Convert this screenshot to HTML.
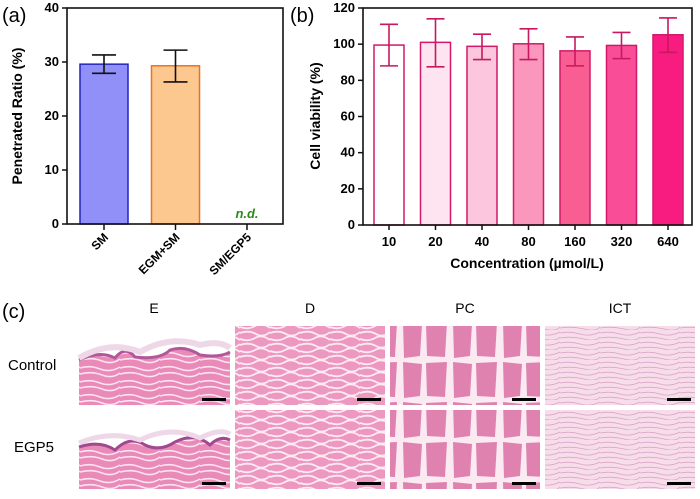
<!DOCTYPE html>
<html><head><meta charset="utf-8"><style>
body{margin:0;background:#fff;width:700px;height:494px;overflow:hidden;font-family:"Liberation Sans",sans-serif}
svg text{font-family:"Liberation Sans",sans-serif}
</style></head><body>
<svg id="fig" width="700" height="494" xmlns="http://www.w3.org/2000/svg">
<defs>
<pattern id="fib" width="40" height="14" patternUnits="userSpaceOnUse">
<rect width="40" height="14" fill="#e98ab8"/>
<path d="M0 4 Q10 1 20 5 T40 3 M0 10 Q12 7 22 11 T40 9" stroke="#fbe4ef" stroke-width="1.6" fill="none"/>
</pattern>
<pattern id="fib2" width="30" height="12" patternUnits="userSpaceOnUse">
<rect width="30" height="12" fill="#ec98c0"/>
<path d="M0 3 Q8 6 15 2 T30 4 M0 9 Q9 6 16 10 T30 8" stroke="#fdeaf2" stroke-width="1.8" fill="none"/>
</pattern>
<pattern id="musc" width="50" height="40" patternUnits="userSpaceOnUse">
<rect width="50" height="40" fill="#fbeaf2"/>
<path d="M3 2 L22 4 L20 36 L4 38 Z M26 3 L47 2 L45 37 L27 36 Z" fill="#df82b0"/>
</pattern>
<pattern id="ict" width="40" height="10" patternUnits="userSpaceOnUse">
<rect width="40" height="10" fill="#f7dcea"/>
<path d="M0 3 Q10 1 20 4 T40 2 M0 8 Q12 6 24 9 T40 7" stroke="#d9a6c8" stroke-width="0.8" fill="none"/>
</pattern>
</defs>
<g id="pa"></g>
<g id="pb"></g>
<g id="pc">
<text x="2" y="318" font-size="20">(c)</text>
<text x="154" y="313" font-size="14" text-anchor="middle">E</text>
<text x="310" y="313" font-size="14" text-anchor="middle">D</text>
<text x="465" y="313" font-size="14" text-anchor="middle">PC</text>
<text x="620" y="313" font-size="14" text-anchor="middle">ICT</text>
<text x="8" y="370" font-size="15">Control</text>
<text x="14" y="452" font-size="15">EGP5</text>
<g>
<rect x="79" y="326" width="151" height="79" fill="#fff"/>
<path d="M79 360 Q100 350 115 358 Q125 345 135 357 Q160 360 170 350 Q185 345 200 355 Q220 358 230 352 L230 405 L79 405Z" fill="url(#fib)"/>
<path d="M79 360 Q100 350 115 358 Q125 345 135 357 Q160 360 170 350 Q185 345 200 355 Q220 358 230 352" fill="none" stroke="#b0589a" stroke-width="3"/>
<path d="M79 358 Q110 340 140 352 Q170 335 200 345 Q220 340 230 348" stroke="#eed8e8" stroke-width="6" fill="none"/>
<rect x="202" y="398" width="24" height="3" fill="#000"/></g>
<g>
<rect x="79" y="410" width="151" height="79" fill="#fff"/>
<path d="M79 447 Q100 440 115 450 Q130 435 145 445 Q160 452 175 442 Q195 432 210 445 Q220 435 230 440 L230 489 L79 489Z" fill="url(#fib)"/>
<path d="M79 447 Q100 440 115 450 Q130 435 145 445 Q160 452 175 442 Q195 432 210 445 Q220 435 230 440" fill="none" stroke="#a04890" stroke-width="3"/>
<path d="M79 443 Q110 430 140 440 Q170 425 200 438 Q220 428 230 434" stroke="#eed8e8" stroke-width="5" fill="none"/>
<rect x="202" y="482" width="24" height="3" fill="#000"/></g>
<g><rect x="235" y="326" width="150" height="79" fill="url(#fib2)"/><rect x="357" y="398" width="24" height="3" fill="#000"/></g>
<g><rect x="235" y="410" width="150" height="79" fill="url(#fib2)"/><rect x="357" y="482" width="24" height="3" fill="#000"/></g>
<g><rect x="390" y="326" width="150" height="79" fill="url(#musc)"/><rect x="512" y="398" width="24" height="3" fill="#000"/></g>
<g><rect x="390" y="410" width="150" height="79" fill="url(#musc)"/><rect x="512" y="482" width="24" height="3" fill="#000"/></g>
<g><rect x="545" y="326" width="150" height="79" fill="url(#ict)"/><rect x="667" y="398" width="24" height="3" fill="#000"/></g>
<g><rect x="545" y="410" width="150" height="79" fill="url(#ict)"/><rect x="667" y="482" width="24" height="3" fill="#000"/></g>
</g>
</svg>
<script>
const aCats=["SM","EGM+SM","SM/EGP5"];
const aVals=[29.6,29.3,null];
const aLo=[27.9,26.3,null];
const aHi=[31.3,32.2,null];
const aTicks=[0,10,20,30,40];
const bCats=["10","20","40","80","160","320","640"];
const bVals=[99.5,101,98.8,100.2,96.3,99.3,105.2];
const bLo=[88,87.5,91.5,91.5,88,92,95.5];
const bHi=[111,114,105.5,108.5,104,106.5,114.5];
const bTicks=[0,20,40,60,80,100,120];
const NS="http://www.w3.org/2000/svg";
function mk(p,t,a){const e=document.createElementNS(NS,t);for(const k in a)e.setAttribute(k,a[k]);p.appendChild(e);return e;}
// panel a
const pa=document.getElementById('pa');
const ay=v=>224-(v/40)*216;
const ax=i=>104+i*71.5;
const aFill=["#9090f8","#fcc890"],aStroke=["#2424c0","#f07020"];
let t=mk(pa,'text',{x:2,y:22,'font-size':20});t.textContent="(a)";


aVals.forEach((v,i)=>{if(v===null)return;
 const r=mk(pa,'rect',{x:ax(i)-24,y:ay(v),width:48,height:224-ay(v),fill:aFill[i],stroke:aStroke[i],'stroke-width':1.5});
 
 
 const g=mk(pa,'path',{d:`M${ax(i)} ${ay(aLo[i])}V${ay(aHi[i])}M${ax(i)-12} ${ay(aLo[i])}h24M${ax(i)-12} ${ay(aHi[i])}h24`,stroke:'#111','stroke-width':1.6,fill:'none'});
 
 
});
t=mk(pa,'text',{x:ax(2),y:218,'font-size':13,'font-weight':'bold','font-style':'italic',fill:'#2a8a1a','text-anchor':'middle'});t.textContent="n.d.";


let f=mk(pa,'rect',{x:67,y:8,width:216,height:216,fill:'none',stroke:'#111','stroke-width':1.6});


aTicks.forEach(v=>{mk(pa,'line',{x1:62,x2:67,y1:ay(v),y2:ay(v),stroke:'#111','stroke-width':1.5});
 const l=mk(pa,'text',{x:59,y:ay(v)+4,'font-size':13,'font-weight':'bold','text-anchor':'end'});l.textContent=v;
 
 });
aCats.forEach((c,i)=>{mk(pa,'line',{x1:ax(i),x2:ax(i),y1:224,y2:230,stroke:'#111','stroke-width':1.5});
 const l=mk(pa,'text',{x:ax(i)+5,y:238,'font-size':12,'font-weight':'bold','text-anchor':'end',transform:`rotate(-45 ${ax(i)+5} 238)`});l.textContent=c;
 
 });
t=mk(pa,'text',{x:22,y:116,'font-size':14,'font-weight':'bold','text-anchor':'middle',transform:'rotate(-90 22 116)'});t.textContent="Penetrated Ratio (%)";


// panel b
const pb=document.getElementById('pb');
const by=v=>225-(v/120)*217;
const bx=i=>389+i*46.5;
const bFill=["#ffffff","#fde4f0","#fcc6df","#fb96bc","#f85e92","#f94d98","#f81b80"];
t=mk(pb,'text',{x:290,y:22,'font-size':20});t.textContent="(b)";


bVals.forEach((v,i)=>{
 const r=mk(pb,'rect',{x:bx(i)-15,y:by(v),width:30,height:225-by(v),fill:bFill[i],stroke:'#d3186a','stroke-width':1.5});
 
 
 const g=mk(pb,'path',{d:`M${bx(i)} ${by(bLo[i])}V${by(bHi[i])}M${bx(i)-9} ${by(bLo[i])}h18M${bx(i)-9} ${by(bHi[i])}h18`,stroke:'#c8185e','stroke-width':1.6,fill:'none'});
 
 
});
f=mk(pb,'rect',{x:363,y:8,width:329,height:217,fill:'none',stroke:'#111','stroke-width':1.6});


bTicks.forEach(v=>{mk(pb,'line',{x1:358,x2:363,y1:by(v),y2:by(v),stroke:'#111','stroke-width':1.5});
 const l=mk(pb,'text',{x:355,y:by(v)+4,'font-size':13,'font-weight':'bold','text-anchor':'end'});l.textContent=v;
 
 });
bCats.forEach((c,i)=>{mk(pb,'line',{x1:bx(i),x2:bx(i),y1:225,y2:230,stroke:'#111','stroke-width':1.5});
 const l=mk(pb,'text',{x:bx(i),y:246,'font-size':13,'font-weight':'bold','text-anchor':'middle'});l.textContent=c;
 
 });
t=mk(pb,'text',{x:320,y:116,'font-size':14,'font-weight':'bold','text-anchor':'middle',transform:'rotate(-90 320 116)'});t.textContent="Cell viability (%)";


t=mk(pb,'text',{x:527,y:268,'font-size':14,'font-weight':'bold','text-anchor':'middle'});t.textContent="Concentration (µmol/L)";


</script>
</body></html>
